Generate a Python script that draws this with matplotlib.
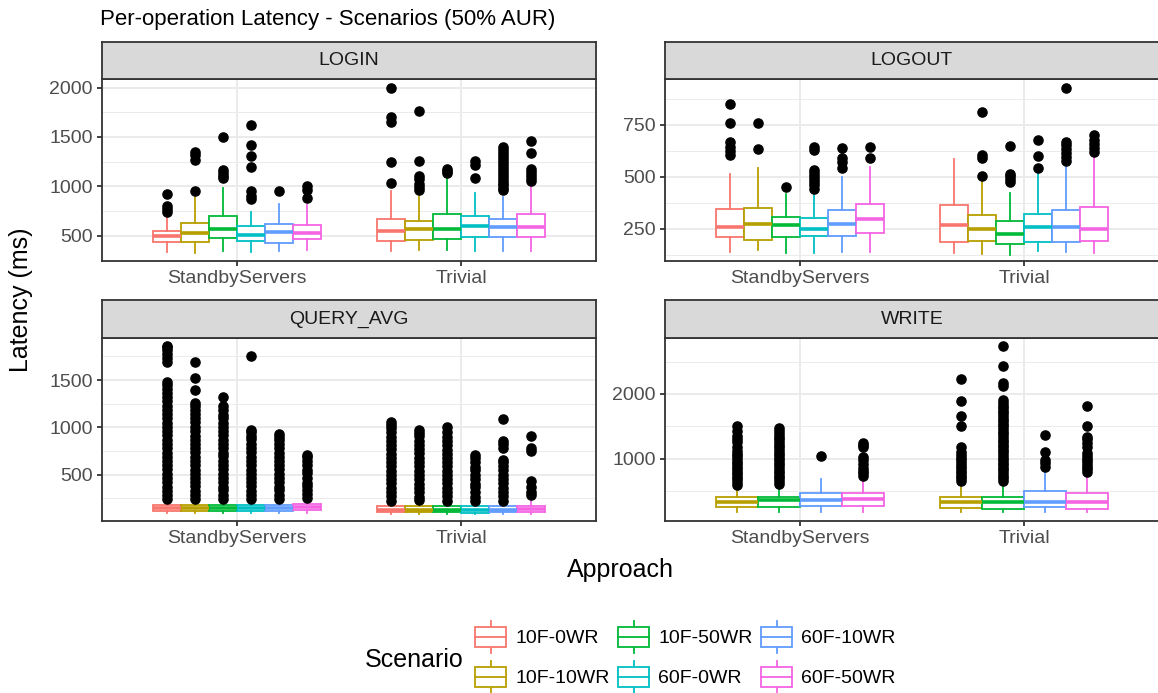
import matplotlib
matplotlib.use("Agg")
import matplotlib.pyplot as plt
from matplotlib.legend_handler import HandlerBase
from matplotlib.lines import Line2D
from matplotlib.patches import Patch, Rectangle
from matplotlib.ticker import FixedLocator

plt.rcParams["font.family"] = ["Liberation Sans", "DejaVu Sans"]

SCENARIOS = ["10F-0WR", "10F-10WR", "10F-50WR", "60F-0WR", "60F-10WR", "60F-50WR"]
SCENARIO_COLORS = ["#F8766D", "#B79F00", "#00BA38", "#00BFC4", "#619CFF", "#F564E3"]
APPROACHES = ["StandbyServers", "Trivial"]
WRITE_SCENARIOS = ["10F-10WR", "10F-50WR", "60F-10WR", "60F-50WR"]

# box summaries per scenario: [whisker low, q1, median, q3, whisker high]  (ms)
LOGIN_SS_BOX = [[341, 436, 500, 553, 695], [325, 436, 527, 628, 914], [352, 477, 568, 705, 988],
                [335, 449, 510, 601, 739], [352, 426, 537, 618, 823], [359, 466, 533, 611, 813]]
LOGIN_TR_BOX = [[345, 449, 550, 668, 958], [359, 460, 568, 651, 904], [359, 466, 568, 722, 1073],
                [345, 493, 601, 702, 938], [352, 493, 588, 668, 897], [345, 487, 588, 722, 1008]]
LOGIN_SS_OUT = [[745, 770, 800, 920], [958, 1270, 1320, 1350], [1090, 1110, 1135, 1170, 1500],
                [870, 900, 950, 1200, 1310, 1420, 1620], [958], [880, 960, 1000]]
LOGIN_TR_OUT = [[1040, 1250, 1655, 1700, 1995], [960, 990, 1030, 1080, 1110, 1260, 1760],
                [1140, 1160, 1180], [1090, 1220, 1260],
                [960, 985, 1010, 1040, 1070, 1100, 1130, 1160, 1190, 1220, 1250, 1280, 1310, 1340, 1370, 1400],
                [1060, 1090, 1120, 1150, 1180, 1340, 1460]]

LOGOUT_SS_BOX = [[139, 210, 258, 348, 516], [150, 198, 274, 352, 545], [134, 210, 268, 306, 419],
                 [134, 215, 250, 303, 429], [139, 215, 274, 339, 500], [139, 231, 300, 371, 550]]
LOGOUT_TR_BOX = [[134, 185, 268, 365, 585], [129, 190, 250, 316, 494], [126, 177, 226, 290, 424],
                 [142, 185, 258, 323, 521], [139, 185, 258, 339, 561], [134, 194, 252, 355, 602]]
LOGOUT_SS_OUT = [[605, 625, 645, 670, 760, 850], [634, 760], [452],
                 [440, 460, 475, 490, 505, 520, 535, 630, 645], [545, 570, 590, 640], [590, 642]]
LOGOUT_TR_OUT = [[], [505, 590, 605, 810], [475, 490, 505, 515, 650], [545, 600, 680],
                 [575, 595, 615, 635, 655, 670, 930], [620, 640, 660, 680, 700]]

QUERY_SS_BOX = [[95, 118, 150, 182, 228], [95, 118, 148, 180, 225], [95, 116, 148, 180, 225],
                [92, 116, 150, 182, 230], [92, 118, 150, 184, 232], [95, 122, 160, 190, 235]]
QUERY_TR_BOX = [[85, 100, 130, 168, 215], [85, 100, 128, 166, 212], [85, 100, 128, 166, 212],
                [82, 98, 125, 164, 208], [82, 100, 128, 166, 212], [85, 102, 132, 170, 218]]
QUERY_SS_OUT = [
    [240, 283, 331, 374, 421, 466, 508, 556, 601, 643, 692, 734, 781, 826, 868, 917, 958, 1006,
     1049, 1096, 1138, 1187, 1229, 1276, 1318, 1366, 1409, 1447, 1478, 1690, 1735, 1776, 1814, 1846, 1865],
    [242, 286, 329, 377, 418, 464, 511, 553, 598, 647, 689, 737, 779, 823, 871, 913, 961, 1003,
     1052, 1094, 1141, 1183, 1226, 1262, 1400, 1525, 1695],
    [238, 284, 333, 372, 423, 462, 509, 557, 602, 641, 694, 732, 783, 824, 869, 916, 963, 1002,
     1047, 1098, 1136, 1184, 1224, 1320],
    [244, 287, 328, 376, 419, 468, 512, 551, 597, 646, 688, 739, 778, 827, 872, 914, 955, 975, 1756],
    [246, 289, 334, 371, 424, 461, 507, 558, 603, 644, 691, 733, 784, 822, 866, 903, 930],
    [248, 291, 336, 378, 417, 463, 513, 552, 599, 642, 686, 710],
]
QUERY_TR_OUT = [
    [226, 272, 318, 361, 407, 452, 498, 541, 589, 633, 679, 722, 768, 814, 858, 903, 947, 992, 1025, 1057],
    [228, 269, 316, 363, 405, 454, 496, 543, 587, 631, 677, 726, 771, 812, 856, 905, 944, 975],
    [224, 274, 321, 359, 409, 449, 501, 539, 591, 636, 681, 719, 766, 817, 861, 901, 949, 1000],
    [222, 267, 314, 366, 404, 456, 494, 546, 586, 629, 676, 713],
    [225, 271, 319, 362, 411, 451, 497, 544, 593, 632, 660, 785, 820, 855, 1085],
    [280, 320, 367, 438, 748, 783, 906],
]

WRITE_SS_BOX = [[186, 263, 340, 417, 598], [186, 263, 366, 407, 598],
                [186, 273, 366, 479, 686], [186, 273, 376, 469, 701]]
WRITE_TR_BOX = [[186, 247, 340, 407, 634], [186, 237, 340, 407, 634],
                [186, 263, 340, 505, 804], [186, 237, 340, 469, 768]]
WRITE_SS_OUT = [
    [603, 641, 684, 722, 761, 803, 838, 882, 921, 958, 1002, 1043, 1079, 1121, 1182, 1262, 1301, 1352, 1431, 1510],
    [618, 659, 702, 738, 781, 822, 859, 903, 941, 978, 1022, 1061, 1099, 1141, 1183, 1219, 1262,
     1301, 1343, 1381, 1423, 1470],
    [1046],
    [740, 781, 822, 861, 930, 982, 1036, 1191, 1222, 1252],
]
WRITE_TR_OUT = [
    [662, 701, 743, 782, 821, 862, 899, 941, 983, 1022, 1061, 1113, 1191, 1510, 1655, 1887, 2237],
    [661, 702, 741, 779, 823, 858, 902, 939, 981, 1018, 1062, 1101, 1139, 1182, 1219, 1262, 1298,
     1341, 1379, 1422, 1461, 1502, 1539, 1582, 1621, 1659, 1702, 1741, 1779, 1822, 1861, 1912,
     2118, 2170, 2428, 2737],
    [881, 935, 985, 1113, 1371],
    [800, 841, 879, 922, 961, 1001, 1042, 1088, 1191, 1250, 1302, 1345, 1500, 1809],
]

BORDER = "#333333"
GRID = "#EBEBEB"
W, H = 1158, 693


class BoxKey(HandlerBase):
    """Legend key drawn as a small boxplot glyph."""

    def create_artists(self, legend, orig_handle, xdescent, ydescent, width, height, fontsize, trans):
        c = orig_handle.get_edgecolor()
        x0, y0 = -xdescent, -ydescent
        cx = x0 + width / 2
        box = Rectangle((x0, y0 + 0.24 * height), width, 0.52 * height,
                        facecolor="white", edgecolor=c, lw=1.3, transform=trans)
        med = Line2D([x0, x0 + width], [y0 + 0.5 * height] * 2, color=c, lw=1.3, transform=trans)
        lo = Line2D([cx, cx], [y0 + 0.06 * height, y0 + 0.24 * height], color=c, lw=1.3, transform=trans)
        hi = Line2D([cx, cx], [y0 + 0.76 * height, y0 + 0.94 * height], color=c, lw=1.3, transform=trans)
        return [lo, hi, box, med]


def px_axes(fig, left, top, right, bottom):
    return fig.add_axes([left / W, 1 - bottom / H, (right - left) / W, (bottom - top) / H])


def draw_strip(ax, label):
    ax.set_facecolor("#D9D9D9")
    ax.set_xticks([])
    ax.set_yticks([])
    for s in ax.spines.values():
        s.set_color(BORDER)
        s.set_linewidth(1.3)
    ax.text(0.5, 0.5, label, ha="center", va="center", fontsize=14, color="#1A1A1A",
            transform=ax.transAxes)


def draw_panel(ax, scen_names, boxes_ss, boxes_tr, outs_ss, outs_tr, ylim, major, minor):
    n = len(scen_names)
    slot = 0.75 / n
    for j, (boxes, outs) in enumerate([(boxes_ss, outs_ss), (boxes_tr, outs_tr)]):
        for i, name in enumerate(scen_names):
            col = SCENARIO_COLORS[SCENARIOS.index(name)]
            lo, q1, med, q3, hi = boxes[i]
            stats = [dict(whislo=lo, q1=q1, med=med, q3=q3, whishi=hi, fliers=outs[i])]
            pos = j + 1 - 0.375 + slot * (i + 0.5)
            ax.bxp(stats, positions=[pos], widths=[slot], patch_artist=True, showcaps=False,
                   manage_ticks=False,
                   boxprops=dict(facecolor="white", edgecolor=col, lw=1.3),
                   whiskerprops=dict(color=col, lw=1.3),
                   medianprops=dict(color=col, lw=2.6, solid_capstyle="butt"),
                   flierprops=dict(marker="o", markerfacecolor="black", markeredgecolor="black",
                                   markersize=6.6, linestyle="none"))
    ax.set_xlim(0.4, 2.6)
    ax.set_ylim(*ylim)
    ax.set_xticks([1, 2])
    ax.set_xticklabels(APPROACHES)
    ax.yaxis.set_major_locator(FixedLocator(major))
    ax.yaxis.set_minor_locator(FixedLocator(minor))
    ax.set_axisbelow(True)
    ax.grid(which="major", color=GRID, lw=1.4)
    ax.grid(which="minor", axis="y", color=GRID, lw=0.7)
    ax.tick_params(which="major", labelsize=14, labelcolor="#4D4D4D", color=BORDER,
                   length=3.6, width=1.3, pad=3)
    ax.tick_params(which="minor", length=0)
    for s in ax.spines.values():
        s.set_color(BORDER)
        s.set_linewidth(1.3)


fig = plt.figure(figsize=(W / 100, H / 100), dpi=100)

cols = [(102, 596), (665, 1159)]
rows = [(42, 79, 261), (300, 338, 521)]

panels = [
    ("LOGIN", SCENARIOS, LOGIN_SS_BOX, LOGIN_TR_BOX, LOGIN_SS_OUT, LOGIN_TR_OUT,
     (247, 2086), [500, 1000, 1500, 2000], [250, 750, 1250, 1750]),
    ("LOGOUT", SCENARIOS, LOGOUT_SS_BOX, LOGOUT_TR_BOX, LOGOUT_SS_OUT, LOGOUT_TR_OUT,
     (96, 971), [250, 500, 750], [125, 375, 625, 875]),
    ("QUERY_AVG", SCENARIOS, QUERY_SS_BOX, QUERY_TR_BOX, QUERY_SS_OUT, QUERY_TR_OUT,
     (10, 1945), [500, 1000, 1500], [250, 750, 1250, 1750]),
    ("WRITE", WRITE_SCENARIOS, WRITE_SS_BOX, WRITE_TR_BOX, WRITE_SS_OUT, WRITE_TR_OUT,
     (45, 2862), [1000, 2000], [500, 1500, 2500]),
]

for k, (label, names, bss, btr, oss, otr, ylim, major, minor) in enumerate(panels):
    left, right = cols[k % 2]
    s_top, p_top, p_bot = rows[k // 2]
    ax = px_axes(fig, left, p_top, right, p_bot)
    draw_panel(ax, names, bss, btr, oss, otr, ylim, major, minor)
    sax = px_axes(fig, left, s_top, right, p_top)
    draw_strip(sax, label)

fig.text(100 / W, 1 - 19 / H, "Per-operation Latency - Scenarios (50% AUR)",
         ha="left", va="center", fontsize=16)
fig.text(21 / W, 1 - 300 / H, "Latency (ms)", rotation=90, ha="center", va="center", fontsize=18)
fig.text(620 / W, 1 - 570 / H, "Approach", ha="center", va="center", fontsize=18)
fig.text(365 / W, 1 - 660 / H, "Scenario", ha="left", va="center", fontsize=18)

handles = [Patch(facecolor="white", edgecolor=c, label=s) for s, c in zip(SCENARIOS, SCENARIO_COLORS)]
fig.legend(handles=handles, ncol=3, loc="center left", bbox_to_anchor=(475 / W, 1 - 657 / H),
           frameon=False, fontsize=14, handler_map={Patch: BoxKey()},
           handlelength=1.6, handleheight=2.56, labelspacing=0.15,
           handletextpad=0.46, columnspacing=0.45, borderpad=0, borderaxespad=0)

fig.savefig("out.png", dpi=100)
